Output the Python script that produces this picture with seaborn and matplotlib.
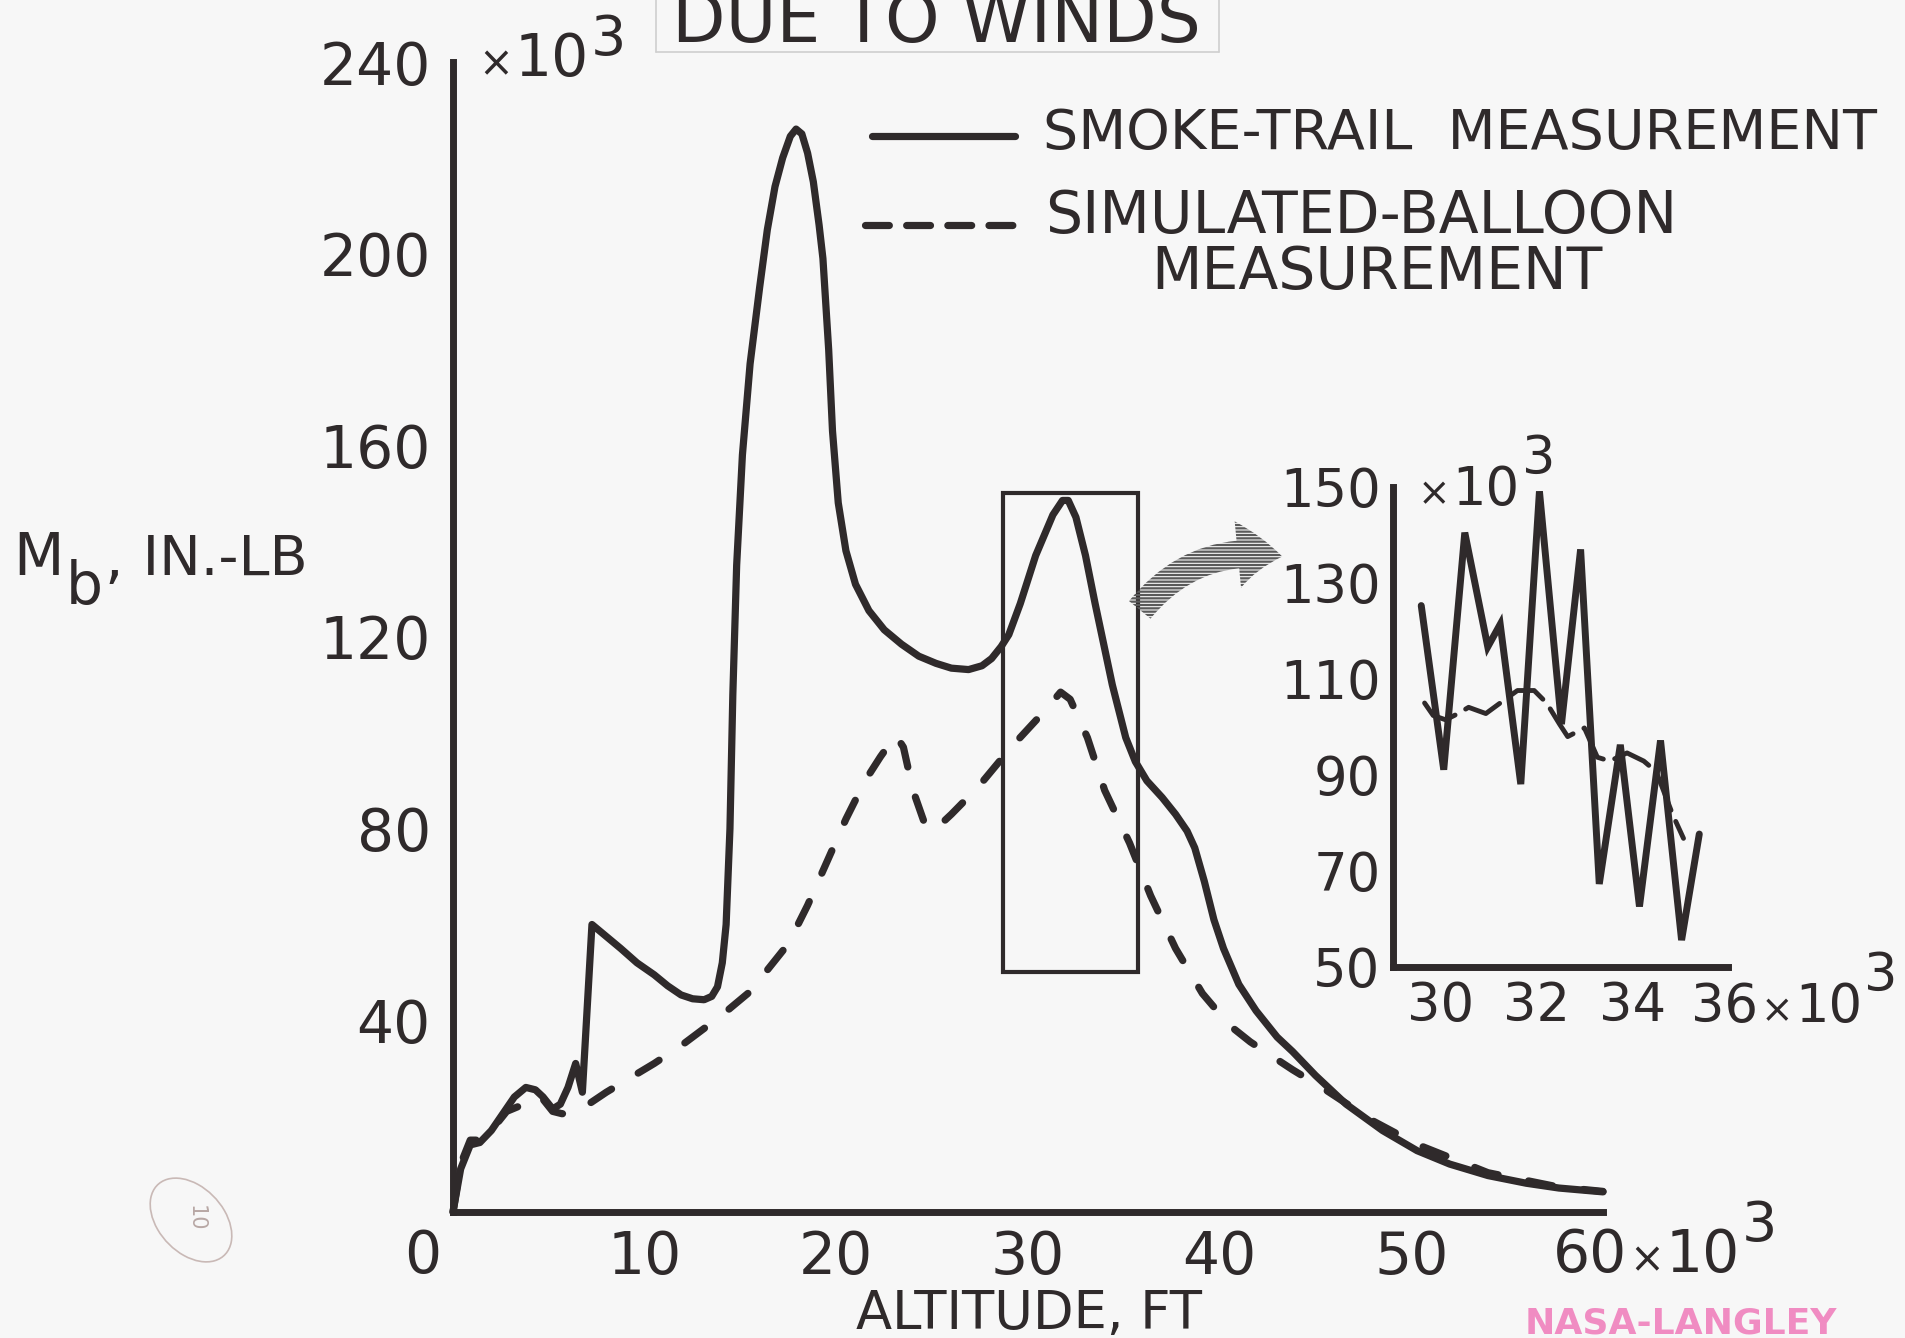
import matplotlib
matplotlib.use("Agg")
import matplotlib.pyplot as plt
import seaborn as sns
from matplotlib.patches import Rectangle, FancyArrowPatch, Ellipse, ArrowStyle
from matplotlib.lines import Line2D
from matplotlib.transforms import IdentityTransform

# ---------------- data ----------------
smoke_alt = [0, 0.4, 0.9, 1.4, 2.0, 2.6, 3.2, 3.8, 4.3, 4.7, 5.2, 5.6, 6.0, 6.4, 6.75,
             7.25, 8.0, 8.75, 9.6, 10.5, 11.2, 11.9, 12.5, 13.1, 13.5, 13.8, 14.05, 14.25,
             14.45, 14.6, 14.8, 15.1, 15.5, 16.0, 16.4, 16.8, 17.2, 17.6, 17.9, 18.2, 18.5,
             18.8, 19.1, 19.3, 19.6, 19.8, 20.1, 20.5, 21.0, 21.7, 22.5, 23.4, 24.3, 25.2,
             26.0, 26.9, 27.6, 28.1, 28.6, 29.0, 29.6, 30.4, 31.3, 31.8, 32.1, 32.5, 33.0,
             33.5, 34.4, 35.1, 35.6, 36.2, 37.0, 37.7, 38.3, 38.7, 39.2, 39.7, 40.2, 41.0,
             41.9, 43.0, 43.8, 45.0, 46.6, 48.5, 50.3, 52.0, 54.0, 56.0, 57.7, 60.0]
smoke_mb = [0, 9, 14, 14.5, 17, 20.5, 24, 26, 25.5, 24, 21.5, 22.5, 26, 31, 25,
            60, 57.5, 55, 52, 49.5, 47.2, 45.3, 44.5, 44.3, 45, 47, 52, 60,
            80, 108, 135, 158, 177, 193, 205, 214, 220, 224.5, 226, 225, 221,
            215, 206, 199, 180, 163, 148, 138, 131, 125.5, 121.5, 118.5, 116, 114.5,
            113.5, 113.2, 114, 115.5, 118, 120.5, 127, 137, 145.5, 148.5, 148.5, 145, 137,
            127, 110, 99, 94, 90, 86.5, 83, 79.5, 76, 69, 61, 55, 47.5,
            42, 36.5, 33.5, 28.5, 22.5, 17, 12.8, 10, 7.6, 6, 5, 4.2]

balloon_alt = [0, 0.4, 0.9, 1.5, 2.2, 2.8, 3.4, 4.0, 4.6, 5.2, 5.7, 6.7, 8.0, 10.5, 12.0,
               14.0, 15.5, 16.5, 17.5, 18.5, 19.5, 20.5, 21.5, 22.3, 23.1, 23.5, 24.0, 24.7,
               25.2, 26.0, 27.4, 28.5, 29.4, 30.9, 31.7, 32.2, 33.1, 34.0, 35.3, 36.4, 37.7,
               39.1, 40.5, 41.6, 43.8, 45.6, 48.0, 50.3, 54.0, 57.7, 60.0]
balloon_mb = [0, 10, 15, 15, 18, 21, 22, 24, 24, 21, 20.5, 21.5, 25, 31, 35,
              41, 46, 51, 56, 64, 73, 82, 90, 95, 99.5, 97, 88, 80,
              80, 83, 88.7, 94, 98.2, 104.7, 108.5, 107, 99, 88, 77, 66, 55,
              45.6, 39, 35.5, 29.7, 25.3, 19, 14.1, 8.2, 5.2, 4.3]

inset_smoke_alt = [29.59, 30.06, 30.5, 30.98, 31.24, 31.67, 32.06, 32.52, 32.92, 33.31,
                   33.75, 34.15, 34.59, 35.03, 35.4]
inset_smoke_mb = [125.3, 91.1, 140.5, 116.7, 121.4, 88.1, 149.1, 100.6, 137, 67.3,
                  96.3, 62.6, 97.2, 55.6, 77.7]

inset_balloon_alt = [29.66, 29.84, 30.1, 30.36, 30.58, 30.94, 31.24, 31.6, 31.95, 32.21,
                     32.48, 32.65, 33.0, 33.27, 33.53, 33.89, 34.24, 34.5, 34.85, 35.07]
inset_balloon_mb = [105, 102.4, 101.5, 102.8, 104.1, 102.8, 105, 107.6, 107.6, 105,
                    100.6, 98, 99.8, 93.7, 92.9, 94.6, 92.9, 90.7, 81.6, 76.8]

box_alt = [28.7, 35.75]
box_mb = [50, 150]

x_ticks = [0, 10, 20, 30, 40, 50, 60]
x_ticklabels = ["", "10", "20", "30", "40", "50", ""]
y_ticks = [40, 80, 120, 160, 200, 240]
y_ticklabels = ["40", "80", "120", "160", "200", "240"]
inset_x_ticks = [30, 32, 34, 36]
inset_x_ticklabels = ["30", "32", "34", ""]
inset_y_ticks = [50, 70, 90, 110, 130, 150]
inset_y_ticklabels = ["50", "70", "90", "110", "130", "150"]

title_text = "DUE TO WINDS"
legend_smoke = "SMOKE-TRAIL  MEASUREMENT"
legend_balloon = ["SIMULATED-BALLOON", "MEASUREMENT"]
xlabel_text = "ALTITUDE, FT"
stamp_text = "NASA-LANGLEY"

# ---------------- style ----------------
W, H, DPI = 1905, 1338, 100
BG = "#f7f7f7"
INK = "#2f2a2b"

sns.set_theme(style="white")
plt.rcParams["font.family"] = ["DejaVu Sans"]
plt.rcParams["hatch.linewidth"] = 1.6


def fx(px):
    return px / W


def fy(py):
    return 1 - py / H


fig = plt.figure(figsize=(W / DPI, H / DPI), dpi=DPI, facecolor=BG)

# ---------------- main axes ----------------
ax = fig.add_axes([fx(453), fy(1212), (1603 - 453) / W, (1212 - 62) / H])
ax.set_facecolor("none")
ax.set_xlim(0, 60)
ax.set_ylim(0, 240)
for s in ["top", "right"]:
    ax.spines[s].set_visible(False)
for s in ["left", "bottom"]:
    ax.spines[s].set_linewidth(5)
    ax.spines[s].set_color(INK)
    ax.spines[s].set_capstyle("projecting")
ax.grid(False)
ax.set_xticks(x_ticks)
ax.set_xticklabels(x_ticklabels)
ax.set_yticks(y_ticks)
ax.set_yticklabels(y_ticklabels)
ax.tick_params(direction="in", length=19, width=4, color=INK, labelcolor=INK,
               labelsize=42)
ax.tick_params(axis="y", pad=16)
ax.tick_params(axis="x", pad=12)

sns.lineplot(x=smoke_alt, y=smoke_mb, ax=ax, color=INK, linewidth=5.2, sort=False,
             estimator=None, legend=False, solid_capstyle="round",
             solid_joinstyle="round", clip_on=False)
sns.lineplot(x=balloon_alt, y=balloon_mb, ax=ax, color=INK, linewidth=5.2, sort=False,
             estimator=None, legend=False, linestyle=(0, (3.4, 4.3)),
             dash_capstyle="round", dash_joinstyle="round", clip_on=False)

ax.add_patch(Rectangle((box_alt[0], box_mb[0]), box_alt[1] - box_alt[0],
                       box_mb[1] - box_mb[0], fill=False, lw=3, ec=INK))

# ---------------- inset axes ----------------
axi = fig.add_axes([fx(1393), fy(967), (1728 - 1393) / W, (967 - 487) / H])
axi.set_facecolor("none")
axi.set_xlim(29, 36)
axi.set_ylim(50, 150)
for s in ["top", "right"]:
    axi.spines[s].set_visible(False)
for s in ["left", "bottom"]:
    axi.spines[s].set_linewidth(5)
    axi.spines[s].set_color(INK)
    axi.spines[s].set_capstyle("projecting")
axi.grid(False)
axi.set_xticks(inset_x_ticks)
axi.set_xticklabels(inset_x_ticklabels)
axi.set_yticks(inset_y_ticks)
axi.set_yticklabels(inset_y_ticklabels)
axi.tick_params(direction="in", length=17, width=3.6, color=INK, labelcolor=INK,
                labelsize=38)
axi.tick_params(axis="y", pad=9)
axi.tick_params(axis="x", pad=9)

sns.lineplot(x=inset_smoke_alt, y=inset_smoke_mb, ax=axi, color=INK, linewidth=5,
             sort=False, estimator=None, legend=False, solid_capstyle="round",
             solid_joinstyle="miter", clip_on=False)
sns.lineplot(x=inset_balloon_alt, y=inset_balloon_mb, ax=axi, color=INK, linewidth=3.5,
             sort=False, estimator=None, legend=False, linestyle=(0, (8, 2.5)),
             dash_capstyle="round", clip_on=False)

renderer = fig.canvas.get_renderer()


def chain(x_left, base_y, parts, first_center=False):
    """place text pieces one after another; parts = (text, size, dy_px)"""
    x = x_left
    for i, (s, size, dy) in enumerate(parts):
        ha = "center" if (first_center and i == 0) else "left"
        t = fig.text(fx(x), fy(base_y + dy), s, fontsize=size, color=INK,
                     ha=ha, va="baseline")
        bb = t.get_window_extent(renderer)
        x = bb.x1 + 2
    return x


# main axis extra labels
fig.text(fx(423), fy(1273), "0", fontsize=42, color=INK, ha="center", va="baseline")
chain(1590, 1272, [("60", 42, 0), ("×", 30, 0), ("10", 42, 0), ("3", 40, -31)],
      first_center=True)
chain(478, 76, [("×", 30, 0), ("10", 42, 0), ("3", 40, -21)])

# inset extra labels
chain(1725, 1022, [("36", 38, 0), ("×", 28, 0), ("10", 38, 0), ("3", 38, -31)],
      first_center=True)
chain(1418, 505, [("×", 28, 0), ("10", 38, 0), ("3", 38, -31)])

# axis titles
fig.text(fx(1029), fy(1329), xlabel_text, fontsize=38, color=INK, ha="center",
         va="baseline")
chain(13, 575, [("M", 42, 0), ("b", 42, 29), (",", 42, 2), (" IN.-LB", 40, 0)])

# title (cut by the top edge) and its paste-up box
fig.text(fx(672), fy(42), title_text, fontsize=50, color=INK, ha="left",
         va="baseline")
for xs, ys in [([656, 656], [0, 52]), ([1219, 1219], [0, 52]), ([656, 1219], [52, 52])]:
    fig.add_artist(Line2D([fx(v) for v in xs], [fy(v) for v in ys], lw=1.2,
                          color="#cfcfcf"))

# legend
fig.add_artist(Line2D([fx(872), fx(1015)], [fy(136), fy(136)], lw=5.2, color=INK,
                      solid_capstyle="round"))
fig.add_artist(Line2D([fx(865), fx(1015)], [fy(225), fy(225)], lw=5.2, color=INK,
                      linestyle=(0, (3.3, 2.4)), dash_capstyle="round"))
fig.text(fx(1043), fy(134), legend_smoke, fontsize=40, color=INK, ha="left",
         va="center")
fig.text(fx(1045), fy(216), legend_balloon[0], fontsize=42, color=INK, ha="left",
         va="center")
fig.text(fx(1151), fy(273), legend_balloon[1], fontsize=42, color=INK, ha="left",
         va="center")

# hatched curved arrow from the box to the inset
arrow = FancyArrowPatch(posA=(1138, H - 612), posB=(1285, H - 557),
                        transform=IdentityTransform(),
                        arrowstyle=ArrowStyle.Simple(head_length=32, head_width=48,
                                                     tail_width=20),
                        connectionstyle="arc3,rad=-0.3", mutation_scale=1,
                        facecolor="none", edgecolor="#5a5a5a", lw=0, hatch="-----")
fig.add_artist(arrow)

# pencil mark and stamp
fig.add_artist(Ellipse((fx(191), fy(1220)), 72 / W, 88 / H, angle=22,
                       transform=fig.transFigure, fill=False, ec="#c9b9b6", lw=1.2))
fig.text(fx(196), fy(1218), "10", fontsize=15, color="#b8a8a5", rotation=-90,
         ha="center", va="center")
fig.text(fx(1525), fy(1334), stamp_text, fontsize=26, fontweight="bold",
         color="#f08cc2", ha="left", va="baseline")

fig.savefig("out.png", dpi=DPI, facecolor=BG)
